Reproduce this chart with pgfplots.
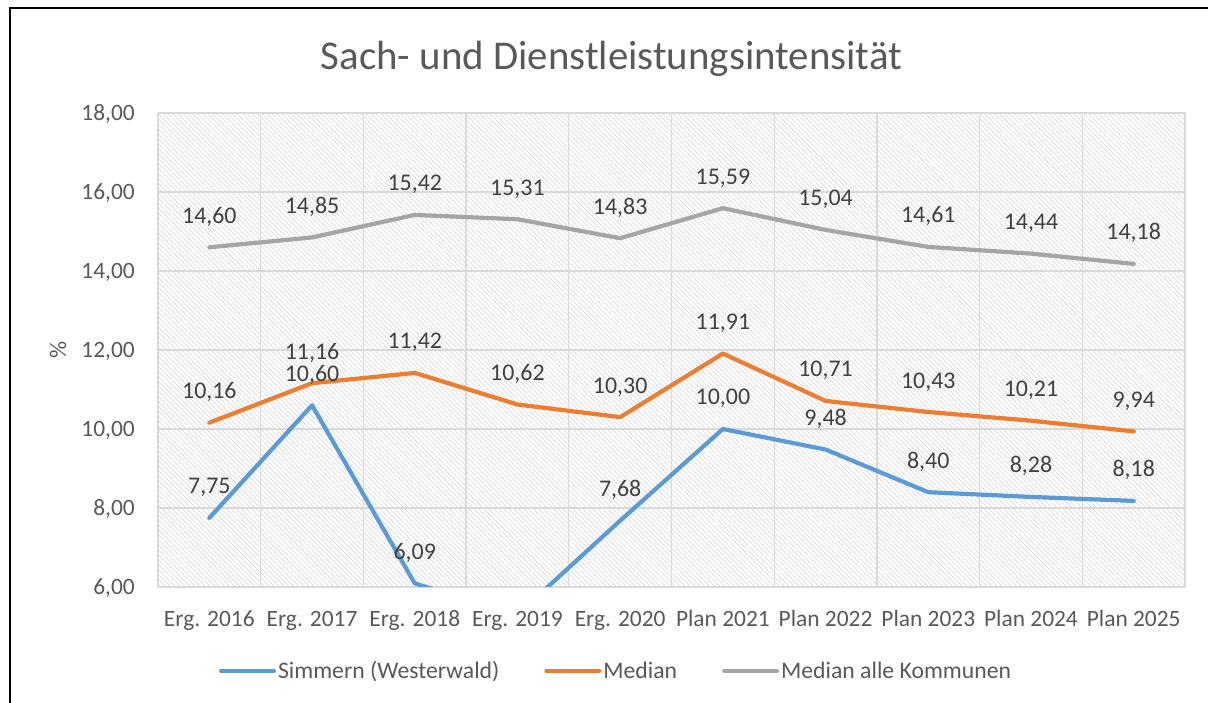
\documentclass[border=0pt]{standalone}
\usepackage{pgfplots}
\pgfplotsset{compat=1.18}
\usepackage{fontspec}
\setmainfont{Carlito}
\usetikzlibrary{patterns.meta}
\definecolor{cblue}{HTML}{5B9BD5}
\definecolor{corange}{HTML}{ED7D31}
\definecolor{cgray}{HTML}{A5A5A5}
\definecolor{txt}{HTML}{595959}
\definecolor{lbl}{HTML}{404040}
\definecolor{grd}{HTML}{D9D9D9}

\pgfplotstableread{
x blue orange gray
0 7.75 10.16 14.60
1 10.60 11.16 14.85
2 6.09 11.42 15.42
3 5.30 10.62 15.31
4 7.68 10.30 14.83
5 10.00 11.91 15.59
6 9.48 10.71 15.04
7 8.40 10.43 14.61
8 8.28 10.21 14.44
9 8.18 9.94 14.18
}\data
\pgfplotstableread{
x blue
0 7.75
1 10.60
2 6.09
4 7.68
5 10.00
6 9.48
7 8.40
8 8.28
9 8.18
}\bluelabels

\begin{document}
\begin{tikzpicture}
\path[use as bounding box] (0bp,0bp) rectangle (1208bp,703bp);
\draw[black, line width=2bp] (10bp,0bp) -- (10bp,695bp) -- (1210bp,695bp);
\node[anchor=base, text=txt, font=\fontsize{41}{48}\selectfont] at (611.5bp,633bp) {Sach- und Dienstleistungsintensität};
\node[rotate=90, text=txt, font=\fontsize{24}{28}\selectfont] at (58bp,353bp) {\%};
\begin{axis}[
  at={(158bp,116bp)}, anchor=south west,
  scale only axis, width=1027bp, height=474bp,
  xmin=-0.5, xmax=9.5, ymin=6, ymax=18,
  ytick={6,8,...,18},
  xtick={0,...,9},
  xticklabels={Erg. 2016,Erg. 2017,Erg. 2018,Erg. 2019,Erg. 2020,Plan 2021,Plan 2022,Plan 2023,Plan 2024,Plan 2025},
  minor xtick={-0.5,0.5,...,9.5},
  xminorgrids=true, ymajorgrids=true, xmajorgrids=false,
  grid style={grd, line width=1.3bp},
  minor grid style={grd, line width=1.3bp},
  major tick length=0, minor tick length=0,
  axis line style={draw=none},
  axis background/.style={pattern={Lines[angle=-45,distance=3.5bp,line width=0.9bp]}, pattern color=black!12},
  ticklabel style={text=txt, font=\fontsize{23.5}{27}\selectfont},
  yticklabel style={anchor=base east, inner sep=0pt, xshift=-23bp, yshift=-8bp,
    /pgf/number format/.cd, fixed, fixed zerofill, precision=2, use comma, assume math mode=true},
  xticklabel style={anchor=base, inner sep=0pt, yshift=-40bp},
  legend columns=3,
  legend style={draw=none, fill=none, at={(axis description cs:0.446,-0.177)}, anchor=center,
    font=\fontsize{23.8}{27}\selectfont, text=txt,
    /tikz/every even column/.append style={column sep=43bp},
    nodes={inner sep=2bp}},
  legend image code/.code={\draw[#1, line width=4bp] (0bp,0bp) -- (53bp,0bp);},
  every axis plot/.append style={line width=4.2bp, line join=round, line cap=round},
  label nodes/.style={draw=none, mark=none, forget plot,
    nodes near coords={\pgfmathprintnumber[fixed,fixed zerofill,precision=2,use comma,assume math mode=true]{\pgfplotspointmeta}},
    every node near coord/.append style={anchor=base, yshift=24bp, inner sep=0pt, text=lbl, font=\fontsize{24}{28}\selectfont}},
]
\addplot[cblue] table[x=x,y=blue] {\data};
\addlegendentry{Simmern (Westerwald)}
\addplot[corange] table[x=x,y=orange] {\data};
\addlegendentry{Median}
\addplot[cgray] table[x=x,y=gray] {\data};
\addlegendentry{Median alle Kommunen}
\addplot[label nodes] table[x=x,y=blue] {\bluelabels};
\addplot[label nodes] table[x=x,y=orange] {\data};
\addplot[label nodes] table[x=x,y=gray] {\data};
\end{axis}
\end{tikzpicture}
\end{document}
